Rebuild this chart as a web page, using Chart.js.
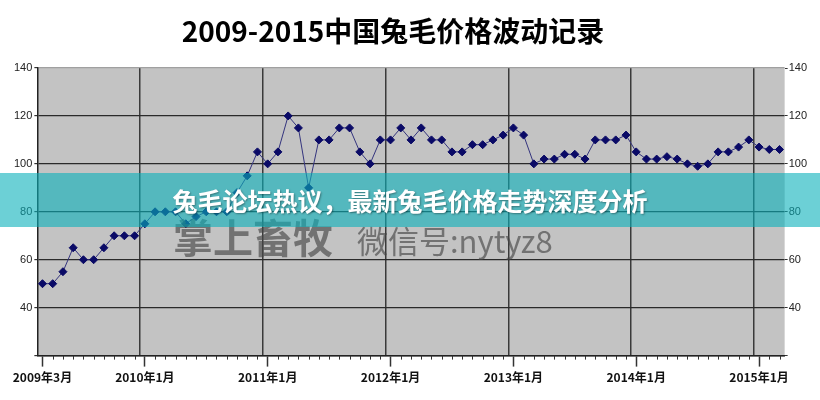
<!DOCTYPE html>
<html>
<head>
<meta charset="utf-8">
<script src="https://cdn.jsdelivr.net/npm/chart.js@4.4.0/dist/chart.umd.min.js"></script>
<style>
    html, body { margin: 0; padding: 0; background: #fff; }
    #wrap { position: relative; width: 820px; height: 400px; overflow: hidden; }
    canvas { display: block; }
    .title {
        position: absolute; left: 0; top: 10px; width: 786px; height: 34px;
        text-align: center; line-height: 34px; color: #000;
        font: bold 28px "Noto Sans CJK SC", sans-serif;
    }
    .banner {
        position: absolute; left: 0; top: 173px; width: 820px; height: 54px;
        background: rgba(10, 177, 187, 0.6);
    }
    .banner span {
        position: absolute; left: 0; top: 9px; width: 820px; text-align: center; line-height: 34px;
        color: #fff; font: bold 25px "Noto Sans CJK SC", sans-serif;
        text-shadow: 1px 1px 2px rgba(0, 0, 0, 0.35);
    }
    .mark { position: absolute; color: rgba(70, 70, 70, 0.65); white-space: nowrap; line-height: 1; }
    .mark.big { left: 173px; top: 207px; font: bold 40px "Noto Sans CJK SC", sans-serif; }
    .mark.small { left: 357px; top: 217px; font: 31px "Noto Sans CJK SC", sans-serif; }
</style>
</head>
<body>
<div id="wrap">
    <canvas id="priceChart" width="820" height="400"></canvas>
    <div class="title">2009-2015中国兔毛价格波动记录</div>
    <div class="mark big">掌上畜牧</div>
    <div class="mark small">微信号:nytyz8</div>
    <div class="banner"><span>兔毛论坛热议，最新兔毛价格走势深度分析</span></div>
</div>
<script>
// Giá lông thỏ theo tháng
const seriesYears = [2009, 2010, 2011, 2012, 2013, 2014, 2015];
const firstMonth = [3, 1, 1, 1, 1, 1, 1];
const price2009 = [50, 50, 55, 65, 60, 60, 65, 70, 70, 70];
const price2010 = [75, 80, 80, 80, 75, 78, 80, 80, 80, 88, 95, 105];
const price2011 = [100, 105, 120, 115, 90, 110, 110, 115, 115, 105, 100, 110];
const price2012 = [110, 115, 110, 115, 110, 110, 105, 105, 108, 108, 110, 112];
const price2013 = [115, 112, 100, 102, 102, 104, 104, 102, 110, 110, 110, 112];
const price2014 = [105, 102, 102, 103, 102, 100, 99, 100, 105, 105, 107, 110];
const price2015 = [107, 106, 106];
const priceByYear = [price2009, price2010, price2011, price2012, price2013, price2014, price2015];

const tickLabels = ['2009年3月', '2010年1月', '2011年1月', '2012年1月', '2013年1月', '2014年1月', '2015年1月'];
const yTicks = [40, 60, 80, 100, 120, 140];

const labels = [];
const prices = [];
seriesYears.forEach((year, k) => {
    priceByYear[k].forEach((p, j) => {
        labels.push(year + '年' + (firstMonth[k] + j) + '月');
        prices.push(p);
    });
});

// Nền xám cho vùng vẽ
const plotBackground = {
    id: 'plotBackground',
    beforeDraw(chart) {
        const { ctx, chartArea } = chart;
        ctx.save();
        ctx.fillStyle = '#c3c3c3';
        ctx.fillRect(chartArea.left, chartArea.top, chartArea.right - chartArea.left, chartArea.bottom - chartArea.top);
        ctx.restore();
    }
};

// Vạch nhỏ cho từng tháng
const minorTicks = {
    id: 'minorTicks',
    afterDraw(chart) {
        const { ctx, chartArea } = chart;
        const xScale = chart.scales.x;
        ctx.save();
        ctx.strokeStyle = '#333';
        ctx.lineWidth = 1;
        labels.forEach((label, i) => {
            if (tickLabels.includes(label)) return;
            const px = Math.round(xScale.getPixelForValue(i)) + 0.5;
            ctx.beginPath();
            ctx.moveTo(px, chartArea.bottom);
            ctx.lineTo(px, chartArea.bottom + 4);
            ctx.stroke();
        });
        ctx.restore();
    }
};

const tickFont = { family: '"Liberation Sans", Arial, sans-serif', size: 11 };

const priceChart = new Chart(document.getElementById('priceChart').getContext('2d'), {
    type: 'line',
    data: {
        labels: labels,
        datasets: [{
            label: '兔毛价格',
            data: prices,
            xAxisID: 'x',
            yAxisID: 'y',
            borderColor: '#34347e',
            borderWidth: 1,
            pointStyle: 'rectRot',
            pointRadius: 4,
            pointHoverRadius: 4,
            pointBackgroundColor: '#0a0a66',
            pointBorderColor: '#0a0a66',
            pointBorderWidth: 1,
            tension: 0
        }]
    },
    options: {
        responsive: false,
        animation: false,
        devicePixelRatio: 1,
        layout: { padding: { left: 12, right: 12, top: 68, bottom: 11 } },
        plugins: {
            legend: { display: false },
            tooltip: { enabled: false },
            title: { display: false }
        },
        scales: {
            x: {
                type: 'category',
                position: 'bottom',
                offset: true,
                grid: {
                    offset: false,
                    drawOnChartArea: false,
                    tickLength: 11,
                    tickWidth: 1.5,
                    tickColor: ctx => (ctx.tick && tickLabels.includes(labels[ctx.index])) ? '#333' : 'rgba(0,0,0,0)'
                },
                border: { color: '#222', width: 1.5 },
                ticks: {
                    autoSkip: false,
                    maxRotation: 0,
                    minRotation: 0,
                    padding: 4,
                    color: '#111',
                    font: { family: '"Noto Sans CJK SC", sans-serif', size: 12, weight: 'bold' },
                    callback: function(value) {
                        const label = this.getLabelForValue(value);
                        return tickLabels.includes(label) ? label : '';
                    }
                }
            },
            xg: {
                type: 'category',
                position: 'top',
                offset: true,
                grid: {
                    offset: true,
                    drawTicks: false,
                    lineWidth: 1.5,
                    color: ctx => (ctx.tick && labels[ctx.index] && labels[ctx.index].endsWith('年1月')) ? '#3a3a3a' : 'rgba(0,0,0,0)'
                },
                border: { display: false },
                ticks: { display: false }
            },
            y: {
                position: 'left',
                min: 20,
                max: 140,
                afterBuildTicks: axis => { axis.ticks = [20].concat(yTicks).map(v => ({ value: v })); },
                grid: {
                    tickLength: 3,
                    lineWidth: 1.2,
                    color: ctx => (ctx.tick && ctx.tick.value === 140) ? '#a0a0a0' : '#2a2a2a',
                    tickColor: '#333'
                },
                border: { color: '#222', width: 1.5 },
                ticks: {
                    padding: 2,
                    color: '#222',
                    font: tickFont,
                    callback: v => yTicks.includes(v) ? v : ''
                }
            },
            y2: {
                position: 'right',
                min: 20,
                max: 140,
                afterBuildTicks: axis => { axis.ticks = [20].concat(yTicks).map(v => ({ value: v })); },
                grid: { drawOnChartArea: false, tickLength: 3, tickColor: '#333' },
                border: { display: false },
                ticks: {
                    padding: 1,
                    color: '#222',
                    font: tickFont,
                    callback: v => yTicks.includes(v) ? v : ''
                }
            }
        }
    },
    plugins: [plotBackground, minorTicks]
});
</script>
</body>
</html>
